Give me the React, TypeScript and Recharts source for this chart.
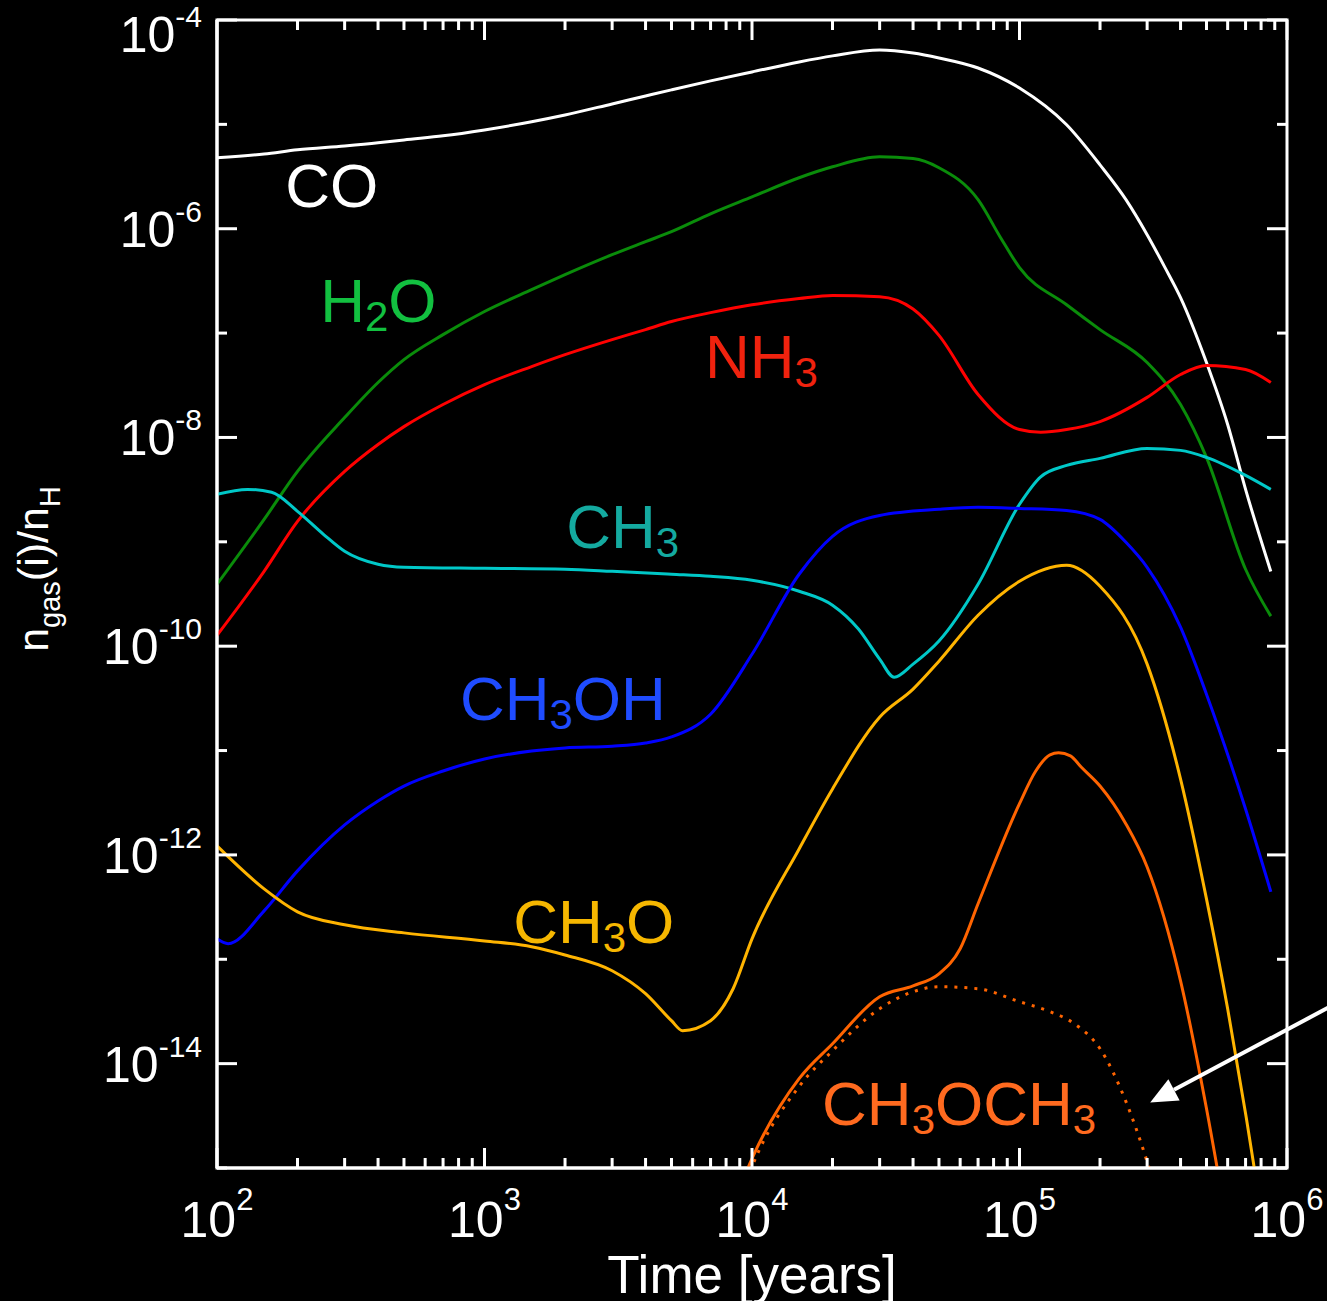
import React from 'react';
import { LineChart, Line, XAxis, YAxis, ReferenceDot, ReferenceLine, ReferenceArea } from 'recharts';

const WIDTH = 1327;
const HEIGHT = 1301;
const MARGIN = { top: 20, right: 40, bottom: 0, left: 0 };
const PLOT_TOP = MARGIN.top;
const PLOT_RIGHT = WIDTH - MARGIN.right;
const FONT = '"Liberation Sans", Arial, Helvetica, sans-serif';

// ---- gas-phase abundances n_gas(i)/n_H versus time [years] ----
const coTime = [100, 150, 200, 300, 400, 500, 700, 1000, 1500, 2000, 3000, 4000, 5000, 7000, 1e4, 1.5e4, 2e4, 3e4, 4e4, 5e4, 7e4, 1e5, 1.5e5, 2e5, 2.5e5, 3e5, 3.5e5, 4e5, 5e5, 6e5, 7e5, 8.7e5];
const coAbund = [4.78e-6, 5.2e-6, 5.7e-6, 6.2e-6, 6.65e-6, 7.1e-6, 7.76e-6, 8.85e-6, 1.06e-5, 1.23e-5, 1.57e-5, 1.87e-5, 2.14e-5, 2.61e-5, 3.18e-5, 3.96e-5, 4.53e-5, 5.16e-5, 4.83e-5, 4.33e-5, 3.47e-5, 2.23e-5, 9.9e-6, 4.09e-6, 1.9e-6, 8.77e-7, 4.24e-7, 2.19e-7, 5.22e-8, 1.33e-8, 3.18e-9, 5.2e-10];

const h2oTime = [100, 150, 200, 300, 400, 500, 700, 1000, 1500, 2000, 3000, 4000, 5000, 7000, 1e4, 1.5e4, 2e4, 3e4, 4e4, 5e4, 7e4, 8.5e4, 1e5, 1.5e5, 2e5, 3e5, 4e5, 5e5, 7e5, 8.7e5];
const h2oAbund = [3.92e-10, 1.64e-9, 4.73e-9, 1.55e-8, 3.36e-8, 5.57e-8, 9.67e-8, 1.61e-7, 2.61e-7, 3.63e-7, 5.64e-7, 7.51e-7, 9.36e-7, 1.39e-6, 2.02e-6, 3.08e-6, 3.92e-6, 4.89e-6, 4.7e-6, 3.84e-6, 1.9e-6, 8.2e-7, 4.24e-7, 1.87e-7, 1.08e-7, 5.22e-8, 2.07e-8, 6.44e-9, 5.46e-10, 1.94e-10];

const nh3Time = [100, 150, 200, 300, 400, 500, 700, 1000, 1500, 2000, 3000, 4000, 5000, 7000, 1e4, 1.5e4, 2e4, 3e4, 4e4, 5e4, 7e4, 1e5, 1.2e5, 1.5e5, 2e5, 3e5, 4e5, 5e5, 7e5, 8.7e5];
const nh3Abund = [1.27e-10, 5.22e-10, 1.57e-9, 4.73e-9, 8.57e-9, 1.27e-8, 2.07e-8, 3.21e-8, 4.78e-8, 6.22e-8, 8.67e-8, 1.08e-7, 1.29e-7, 1.57e-7, 1.87e-7, 2.14e-7, 2.29e-7, 2.23e-7, 1.7e-7, 9.5e-8, 2.58e-8, 1.19e-8, 1.12e-8, 1.19e-8, 1.42e-8, 2.42e-8, 4.01e-8, 4.89e-8, 4.48e-8, 3.36e-8];

const ch3Time = [100, 130, 160, 200, 250, 300, 400, 500, 1000, 2000, 3000, 5000, 7000, 1e4, 1.5e4, 2e4, 2.5e4, 3e4, 3.4e4, 4e4, 5e4, 7e4, 1e5, 1.2e5, 1.5e5, 2e5, 3e5, 4e5, 5e5, 7e5, 8.7e5];
const ch3Abund = [2.85e-9, 3.18e-9, 2.98e-9, 1.96e-9, 1.18e-9, 8.11e-10, 6.09e-10, 5.7e-10, 5.57e-10, 5.46e-10, 5.22e-10, 4.89e-10, 4.67e-10, 4.28e-10, 3.36e-10, 2.47e-10, 1.46e-10, 7.52e-11, 5.05e-11, 6.73e-11, 1.12e-10, 3.92e-10, 2.29e-9, 4.2e-9, 5.4e-9, 6.3e-9, 7.85e-9, 7.52e-9, 6.44e-9, 4.33e-9, 3.18e-9];

const ch3ohTime = [100, 110, 150, 200, 300, 400, 500, 700, 1000, 1500, 2000, 3000, 4000, 5000, 7000, 1e4, 1.5e4, 2e4, 3e4, 5e4, 7e4, 1e5, 1.5e5, 2e5, 2.5e5, 3e5, 4e5, 5e5, 7e5, 8.7e5];
const ch3ohAbund = [1.57e-13, 1.41e-13, 2.91e-13, 7.03e-13, 1.94e-12, 3.29e-12, 4.57e-12, 6.37e-12, 8.3e-12, 9.89e-12, 1.06e-11, 1.1e-11, 1.18e-11, 1.35e-11, 2.23e-11, 8.37e-11, 4.89e-10, 1.13e-9, 1.79e-9, 2.05e-9, 2.14e-9, 2.09e-9, 2.0e-9, 1.64e-9, 9.9e-10, 5.7e-10, 1.52e-10, 3.47e-11, 2.75e-12, 4.43e-13];

const ch3oTime = [100, 150, 200, 300, 500, 1000, 1500, 2000, 3000, 4000, 5000, 5500, 7000, 8500, 1e4, 1.5e4, 2e4, 3e4, 4e4, 5e4, 7e4, 1e5, 1.5e5, 2e5, 3e5, 4e5, 5e5, 6e5, 7e5, 7.5e5, 8.7e5];
const ch3oAbund = [1.22e-12, 4.73e-13, 2.85e-13, 2.14e-13, 1.79e-13, 1.5e-13, 1.32e-13, 1.1e-13, 7.76e-14, 4.68e-14, 2.58e-14, 2.07e-14, 2.58e-14, 5.22e-14, 1.57e-13, 1.14e-12, 4.29e-12, 2.09e-11, 3.88e-11, 7.18e-11, 1.98e-10, 4.19e-10, 5.96e-10, 3.75e-10, 6.73e-11, 5.33e-12, 3.79e-13, 3.36e-14, 3.33e-15, 1.1e-15, 7.0e-17];

const ch3och3Time = [7000, 1e4, 1.5e4, 2e4, 3e4, 4e4, 5e4, 6e4, 7e4, 1e5, 1.15e5, 1.3e5, 1.4e5, 1.55e5, 1.7e5, 2e5, 2.5e5, 3e5, 4e5, 5e5, 6e5];
const ch3och3Abund = [1.0e-16, 1.23e-15, 7.18e-15, 1.55e-14, 4.38e-14, 5.57e-14, 7.26e-14, 1.26e-13, 3.4e-13, 3.1e-12, 6.37e-12, 9.1e-12, 9.5e-12, 8.9e-12, 6.95e-12, 4.57e-12, 1.98e-12, 7.67e-13, 6.22e-14, 3.71e-15, 2.64e-16];

// dotted companion curve of CH3OCH3
const ch3och3AltTime = [9000, 1e4, 1.5e4, 2e4, 3e4, 4e4, 5e4, 7e4, 1e5, 1.3e5, 1.6e5, 2e5, 2.5e5, 3e5, 3.3e5];
const ch3och3AltAbund = [5.0e-16, 1.03e-15, 6.03e-15, 1.33e-14, 3.36e-14, 4.89e-14, 5.46e-14, 5.22e-14, 3.92e-14, 3.15e-14, 2.42e-14, 1.39e-14, 4.33e-15, 1.15e-15, 5.1e-16];

// ---- axes ----
const xDomain = [100, 1e6];
const yDomain = [1e-15, 1e-4];
const xDecades = [100, 1000, 10000, 100000];
const xSteps = [1, 2, 3, 4, 5, 6, 7, 8, 9];
const xTicks = [...xDecades.flatMap((d) => xSteps.map((s) => s * d)), 1e6];
const yTicks = [1e-15, 1e-14, 1e-13, 1e-12, 1e-11, 1e-10, 1e-9, 1e-8, 1e-7, 1e-6, 1e-5, 1e-4];

// ---- species labels: formula, anchor (time, abundance), colour ----
const labelFormulas = ['CO', 'H2O', 'NH3', 'CH3', 'CH3OH', 'CH3O', 'CH3OCH3'];
const labelTimes = [180, 243, 6670, 2020, 809, 1280, 18280];
const labelAbunds = [1.63e-6, 1.29e-7, 3.75e-8, 8.7e-10, 1.96e-11, 1.44e-13, 2.6e-15];
const labelColors = ['#ffffff', '#12c040', '#f0220e', '#14aaa0', '#1f4cff', '#f6b700', '#ff6a1f'];

// arrow pointing at the dotted curve
const arrowFrom = { x: 1.65e6, y: 4.2e-14 };
const arrowTo = { x: 3.08e5, y: 4.24e-15 };

const toPoints = (ts: number[], ns: number[]) => ts.map((t, i) => ({ t, n: ns[i] }));

const isDecade = (v: number) => Math.abs(Math.log10(v) - Math.round(Math.log10(v))) < 1e-9;

// bottom axis tick, mirrored onto the top edge of the frame
const BottomTick = (props: any) => {
  const { x, y, payload } = props;
  const v = payload.value;
  const major = isDecade(v);
  const exp = Math.round(Math.log10(v));
  const len = major ? 20 : 10;
  return (
    <g>
      <line x1={x} x2={x} y1={y} y2={y - len} stroke="#fff" strokeWidth={3} />
      <line x1={x} x2={x} y1={PLOT_TOP} y2={PLOT_TOP + len} stroke="#fff" strokeWidth={3} />
      {major && (
        <text x={x} y={y + 69} textAnchor="middle" fill="#fff" fontSize={50} fontFamily={FONT}>
          10<tspan dy={-27} fontSize={31}>{exp}</tspan>
        </text>
      )}
    </g>
  );
};

// left axis tick, mirrored onto the right edge of the frame
const LeftTick = (props: any) => {
  const { x, y, payload } = props;
  const exp = Math.round(Math.log10(payload.value));
  const even = exp % 2 === 0;
  const len = even ? 20 : 10;
  const baseline = Math.max(y + 18, PLOT_TOP + 32);
  return (
    <g>
      <line x1={x} x2={x + len} y1={y} y2={y} stroke="#fff" strokeWidth={3} />
      <line x1={PLOT_RIGHT} x2={PLOT_RIGHT - len} y1={y} y2={y} stroke="#fff" strokeWidth={3} />
      {even && (
        <text x={x - 15} y={baseline} textAnchor="end" fill="#fff" fontSize={50} fontFamily={FONT}>
          10<tspan dy={-25} fontSize={30}>{`-${-exp}`}</tspan>
        </text>
      )}
    </g>
  );
};

// chemical formula with subscripted digits
const formulaSpans = (formula: string) => {
  const spans: React.ReactNode[] = [];
  let prevSub = false;
  formula.split('').forEach((ch, i) => {
    const sub = /[0-9]/.test(ch);
    const dy = sub && !prevSub ? 9 : !sub && prevSub ? -9 : 0;
    spans.push(
      <tspan key={i} dy={dy || undefined} fontSize={sub ? 42 : 62}>
        {ch}
      </tspan>
    );
    prevSub = sub;
  });
  return spans;
};

const makeLabelShape = (formula: string, color: string) => (p: any) => (
  <text x={p.cx} y={p.cy} fill={color} fontSize={62} fontFamily={FONT}>
    {formulaSpans(formula)}
  </text>
);

const ArrowShape = (p: any) => {
  const { x1, y1, x2, y2 } = p;
  const dx = x1 - x2;
  const dy = y1 - y2;
  const len = Math.hypot(dx, dy) || 1;
  const ux = dx / len;
  const uy = dy / len;
  const head = 27;
  const half = 12;
  const bx = x2 + ux * head;
  const by = y2 + uy * head;
  const px = -uy;
  const py = ux;
  return (
    <g>
      <line x1={x1} y1={y1} x2={bx} y2={by} stroke="#fff" strokeWidth={4} />
      <polygon
        points={`${x2},${y2} ${bx + px * half},${by + py * half} ${bx - px * half},${by - py * half}`}
        fill="#fff"
      />
    </g>
  );
};

const XTitle = (props: any) => {
  const vb = props.viewBox || { x: 217, y: 1168, width: 1070, height: 133 };
  return (
    <text x={vb.x + vb.width / 2} y={vb.y + 125} textAnchor="middle" fill="#fff" fontSize={53} fontFamily={FONT}>
      Time [years]
    </text>
  );
};

const YTitle = (props: any) => {
  const vb = props.viewBox || { x: 0, y: 20, width: 217, height: 1148 };
  const cx = vb.x + 48;
  const cy = vb.y + 549;
  return (
    <text
      x={cx}
      y={cy}
      transform={`rotate(-90, ${cx}, ${cy})`}
      textAnchor="middle"
      fill="#fff"
      fontSize={43}
      fontFamily={FONT}
    >
      n<tspan dy={12} fontSize={29}>gas</tspan>
      <tspan dy={-12}>(i)/n</tspan>
      <tspan dy={12} fontSize={29}>H</tspan>
    </text>
  );
};

const series = [
  { name: 'CO', data: toPoints(coTime, coAbund), color: '#ffffff', dash: undefined },
  { name: 'H2O', data: toPoints(h2oTime, h2oAbund), color: '#0a8c0a', dash: undefined },
  { name: 'NH3', data: toPoints(nh3Time, nh3Abund), color: '#ff0000', dash: undefined },
  { name: 'CH3', data: toPoints(ch3Time, ch3Abund), color: '#00c8c8', dash: undefined },
  { name: 'CH3OH', data: toPoints(ch3ohTime, ch3ohAbund), color: '#0000ff', dash: undefined },
  { name: 'CH3O', data: toPoints(ch3oTime, ch3oAbund), color: '#ffb400', dash: undefined },
  { name: 'CH3OCH3', data: toPoints(ch3och3Time, ch3och3Abund), color: '#ff6400', dash: undefined },
  { name: 'CH3OCH3 (dotted)', data: toPoints(ch3och3AltTime, ch3och3AltAbund), color: '#ff6400', dash: '3 7' },
];

export default function App() {
  return (
    <div style={{ position: 'absolute', left: 0, top: 0, width: WIDTH, height: HEIGHT, background: '#000' }}>
      <LineChart width={WIDTH} height={HEIGHT} margin={MARGIN}>
        <XAxis
          xAxisId="b"
          dataKey="t"
          type="number"
          scale="log"
          domain={xDomain}
          allowDataOverflow
          ticks={xTicks}
          interval={0}
          tickSize={0}
          tickMargin={0}
          tickLine={false}
          tick={<BottomTick />}
          axisLine={{ stroke: '#fff', strokeWidth: 3 }}
          height={133}
          label={{ content: (p: any) => <XTitle {...p} /> }}
        />
        <YAxis
          yAxisId="l"
          type="number"
          scale="log"
          domain={yDomain}
          allowDataOverflow
          ticks={yTicks}
          interval={0}
          tickSize={0}
          tickMargin={0}
          tickLine={false}
          tick={<LeftTick />}
          axisLine={{ stroke: '#fff', strokeWidth: 3 }}
          width={217}
          label={{ content: (p: any) => <YTitle {...p} /> }}
        />
        <ReferenceArea
          xAxisId="b"
          yAxisId="l"
          x1={xDomain[0]}
          x2={xDomain[1]}
          y1={yDomain[0]}
          y2={yDomain[1]}
          ifOverflow="visible"
          fill="none"
          fillOpacity={0}
          stroke="#fff"
          strokeWidth={3}
        />
        {series.map((s) => (
          <Line
            key={s.name}
            xAxisId="b"
            yAxisId="l"
            data={s.data}
            dataKey="n"
            type="monotone"
            stroke={s.color}
            strokeWidth={3}
            strokeDasharray={s.dash}
            dot={false}
            activeDot={false}
            isAnimationActive={false}
          />
        ))}
        {labelFormulas.map((f, i) => (
          <ReferenceDot
            key={f}
            xAxisId="b"
            yAxisId="l"
            x={labelTimes[i]}
            y={labelAbunds[i]}
            r={0}
            ifOverflow="visible"
            shape={makeLabelShape(f, labelColors[i])}
          />
        ))}
        <ReferenceLine
          xAxisId="b"
          yAxisId="l"
          segment={[arrowFrom, arrowTo]}
          ifOverflow="visible"
          shape={ArrowShape}
        />
      </LineChart>
    </div>
  );
}
